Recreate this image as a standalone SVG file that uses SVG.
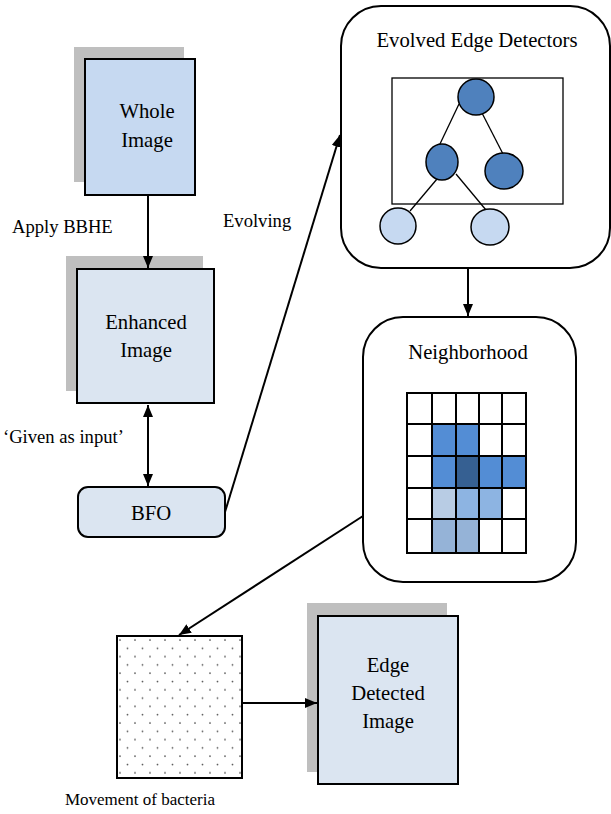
<svg xmlns="http://www.w3.org/2000/svg" width="611" height="814" viewBox="0 0 611 814" font-family="'Liberation Serif', 'Times New Roman', Times, serif">
<style>
text{font-family:"Liberation Serif","Times New Roman",Times,serif;fill:#000}
.bt{font-size:20.7px;text-anchor:middle}
.lb{font-size:18.6px}
.sh{fill:#BFBFBF}
.box{stroke:#000;stroke-width:2}
.ln{stroke:#000;stroke-width:2;fill:none}
.tl{stroke:#000;stroke-width:1.3;fill:none}
.dk{fill:#4F81BD;stroke:#000;stroke-width:1.5}
.lt{fill:#C6D9F1;stroke:#000;stroke-width:1.5}
.g{stroke:#000;stroke-width:2}
</style>
<defs>
<marker id="ah" viewBox="0 0 12 10" refX="12" refY="5" markerWidth="12" markerHeight="10" markerUnits="userSpaceOnUse" orient="auto-start-reverse">
<path d="M0,0 L12,5 L0,10 z" fill="#000"/>
</marker>
<pattern id="dots" x="117" y="636" width="15" height="16.6" patternUnits="userSpaceOnUse">
<rect width="15" height="16.6" fill="#fff"/>
<circle cx="3" cy="4" r="0.9" fill="#555"/>
<circle cx="10.5" cy="12.3" r="0.9" fill="#555"/>
</pattern>
</defs>

<g id="whole-image">
<rect class="sh" x="74" y="47" width="110" height="135"/>
<rect class="box" x="85" y="59" width="110" height="136" fill="#C6D9F1"/>
<text class="bt" x="147" y="118">Whole</text>
<text class="bt" x="147" y="147">Image</text>
</g>

<g id="enhanced-image">
<rect class="sh" x="66" y="256" width="137" height="135"/>
<rect class="box" x="77" y="269" width="137" height="134" fill="#DBE5F1"/>
<text class="bt" x="146" y="329">Enhanced</text>
<text class="bt" x="146" y="357">Image</text>
</g>

<g id="bfo">
<rect class="box" x="78" y="487" width="147" height="50" rx="10" fill="#DBE5F1"/>
<text class="bt" x="151" y="520">BFO</text>
</g>

<g id="labels">
<text class="lb" x="12" y="233">Apply BBHE</text>
<text class="lb" x="223" y="227">Evolving</text>
<text class="lb" x="3" y="443">‘Given as input’</text>
<text x="140" y="805" font-size="17px" text-anchor="middle">Movement of bacteria</text>
</g>

<g id="evolved-edge-detectors">
<rect class="box" x="341" y="6" width="269" height="262" rx="40" fill="#fff"/>
<text class="bt" x="477" y="47">Evolved Edge Detectors</text>
<rect class="tl" x="392" y="78" width="171" height="126" stroke-width="1.5"/>
<line class="tl" x1="459" y1="104" x2="439" y2="146"/>
<line class="tl" x1="482" y1="113" x2="503" y2="154"/>
<line class="tl" x1="437" y1="179" x2="410" y2="211"/>
<line class="tl" x1="456" y1="174" x2="486" y2="210"/>
<ellipse class="dk" cx="476" cy="97" rx="18" ry="18"/>
<ellipse class="dk" cx="442" cy="162" rx="16" ry="18"/>
<ellipse class="dk" cx="504" cy="171" rx="19" ry="18"/>
<ellipse class="lt" cx="398" cy="226" rx="18" ry="18"/>
<ellipse class="lt" cx="490" cy="227" rx="19" ry="18"/>
</g>

<g id="neighborhood">
<rect class="box" x="363" y="317" width="213" height="265" rx="40" fill="#fff"/>
<text class="bt" x="468" y="359">Neighborhood</text>
<rect x="407" y="393" width="119" height="160" fill="#fff"/>
<rect x="432" y="424" width="24" height="32" fill="#538DD5"/>
<rect x="456" y="424" width="23" height="32" fill="#538DD5"/>
<rect x="432" y="456" width="24" height="32" fill="#538DD5"/>
<rect x="456" y="456" width="23" height="32" fill="#366092"/>
<rect x="479" y="456" width="23" height="32" fill="#538DD5"/>
<rect x="502" y="456" width="24" height="32" fill="#538DD5"/>
<rect x="432" y="488" width="24" height="31" fill="#B8CCE4"/>
<rect x="456" y="488" width="23" height="31" fill="#8DB4E2"/>
<rect x="479" y="488" width="23" height="31" fill="#8DB4E2"/>
<rect x="432" y="519" width="24" height="34" fill="#95B3D7"/>
<rect x="456" y="519" width="23" height="34" fill="#95B3D7"/>
<g class="g">
<line x1="407" y1="393" x2="407" y2="553"/>
<line x1="432" y1="393" x2="432" y2="553"/>
<line x1="456" y1="393" x2="456" y2="553"/>
<line x1="479" y1="393" x2="479" y2="553"/>
<line x1="502" y1="393" x2="502" y2="553"/>
<line x1="526" y1="393" x2="526" y2="553"/>
<line x1="406" y1="393" x2="527" y2="393"/>
<line x1="406" y1="424" x2="527" y2="424"/>
<line x1="406" y1="456" x2="527" y2="456"/>
<line x1="406" y1="488" x2="527" y2="488"/>
<line x1="406" y1="519" x2="527" y2="519"/>
<line x1="406" y1="553" x2="527" y2="553"/>
</g>
</g>

<g id="movement-of-bacteria">
<rect class="box" x="117" y="636" width="125" height="142" fill="url(#dots)"/>
</g>

<g id="edge-detected-image">
<rect class="sh" x="307" y="603" width="140" height="169"/>
<rect class="box" x="318" y="616" width="140" height="168" fill="#DBE5F1"/>
<text class="bt" x="388" y="672">Edge</text>
<text class="bt" x="388" y="700">Detected</text>
<text class="bt" x="388" y="728">Image</text>
</g>

<g id="connectors">
<line class="ln" x1="148" y1="196" x2="148" y2="268" marker-end="url(#ah)"/>
<line class="ln" x1="148" y1="405" x2="148" y2="486" marker-start="url(#ah)" marker-end="url(#ah)"/>
<line class="ln" x1="225" y1="512" x2="340" y2="135" marker-end="url(#ah)"/>
<line class="ln" x1="468" y1="269" x2="468" y2="316" marker-end="url(#ah)"/>
<line class="ln" x1="363" y1="516" x2="179" y2="635" marker-end="url(#ah)"/>
<line class="ln" x1="243" y1="703" x2="317" y2="703" marker-end="url(#ah)"/>
</g>
</svg>
